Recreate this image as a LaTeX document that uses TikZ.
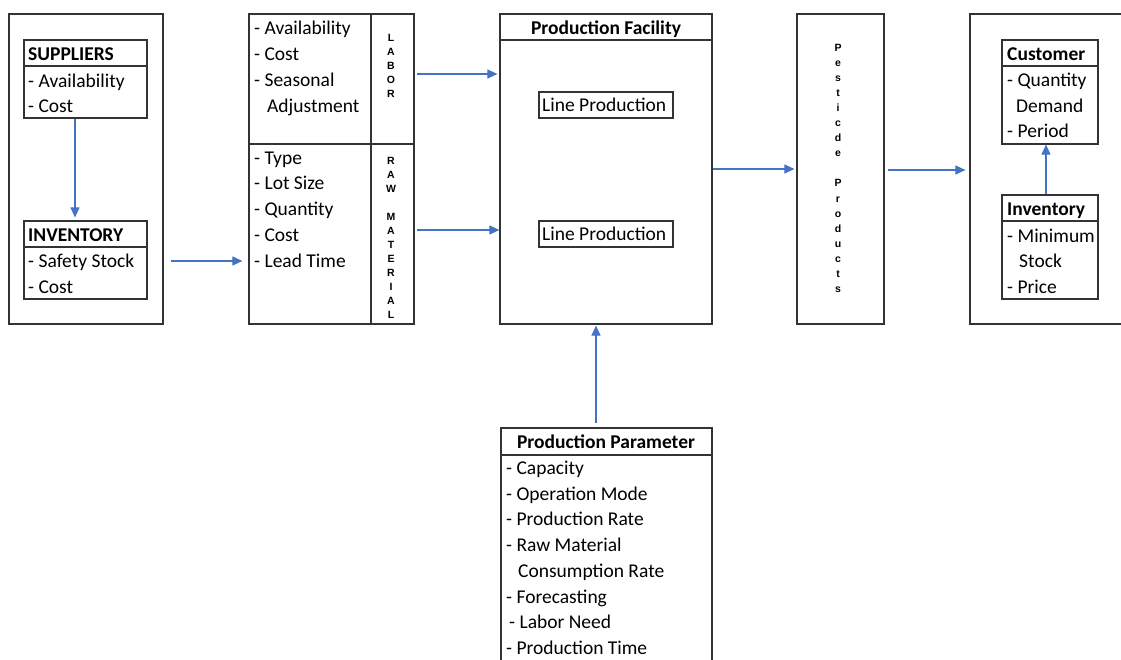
\documentclass[tikz,border=0pt]{standalone}
\usepackage{fontspec}
\setmainfont{Carlito}
\newfontfamily\letterfont{Liberation Sans}
\usetikzlibrary{arrows.meta,fit,calc}
\definecolor{linec}{HTML}{333333}
\definecolor{flow}{HTML}{4472C4}
\tikzset{
  box/.style={draw=linec, line width=1.2pt, inner sep=0pt},
  divider/.style={draw=linec, line width=1.2pt},
  txt/.style={inner sep=0pt, anchor=base west, font=\fontsize{19.5}{24}\selectfont},
  ttl/.style={txt, font=\fontsize{19.5}{24}\selectfont\bfseries},
  ctr/.style={ttl, anchor=base},
  vlet/.style={inner sep=0pt, anchor=base, font=\letterfont\fontsize{10.5}{11}\selectfont\bfseries},
  flowarrow/.style={draw=flow, line width=1.1pt, -{Triangle[length=10pt,width=9pt]}}
}
\begin{document}
\begin{tikzpicture}[x=1pt,y=-1pt]
\useasboundingbox (0,0) rectangle (1121,659);

% lanes for the connectors
\coordinate (lane-sup) at (75,0);
\coordinate (lane-in) at (0,261);
\coordinate (lane-lab) at (0,74);
\coordinate (lane-raw) at (0,230);
\coordinate (lane-out) at (0,169);
\coordinate (lane-pest) at (0,170);
\coordinate (lane-cinv) at (1046,0);
\coordinate (lane-par) at (596,0);
\coordinate (vsplit) at (371,0);

% ---------- suppliers and inventory ----------
\node[box, fit={(9,14) (163,324)}] (left) {};
\node[box, fit={(24,40) (147,66)}] (suph) {};
\node[box, fit={(24,66) (147,118)}] (supb) {};
\node[ttl] (sup-t) at (28,60) {SUPPLIERS};
\node[txt] (sup-1) at (28,87) {- Availability};
\node[txt] (sup-2) at (28,112) {- Cost};

\node[box, fit={(24,221) (147,247)}] (invh) {};
\node[box, fit={(24,247) (147,299)}] (invb) {};
\node[ttl] (inv-t) at (28,241) {INVENTORY};
\node[txt] (inv-1) at (28,267) {- Safety Stock};
\node[txt] (inv-2) at (28,293) {- Cost};

% ---------- labor and raw material ----------
\node[box, fit={(249,14) (414,144)}] (labor) {};
\node[box, fit={(249,144) (414,324)}] (raw) {};
\draw[divider] (labor.north -| vsplit) -- (raw.south -| vsplit);
\node[txt] (lab-1) at (254,34) {- Availability};
\node[txt] (lab-2) at (254,60) {- Cost};
\node[txt] (lab-3) at (254,86) {- Seasonal};
\node[txt] (lab-4) at (267,112) {Adjustment};
\foreach \c [count=\i from 0] in {L,A,B,O,R}
  \node[vlet] (labl-\i) at (391,{41+14*\i}) {\c};

\node[txt] (raw-1) at (254,164) {- Type};
\node[txt] (raw-2) at (254,189) {- Lot Size};
\node[txt] (raw-3) at (254,215) {- Quantity};
\node[txt] (raw-4) at (254,241) {- Cost};
\node[txt] (raw-5) at (254,267) {- Lead Time};
\foreach \c/\i in {R/0,A/1,W/2,M/4,A/5,T/6,E/7,R/8,I/9,A/10,L/11}
  \node[vlet] (rawl-\i) at (391,{164+14*\i}) {\c};

% ---------- production facility ----------
\node[box, fit={(500,14) (712,324)}] (fac) {};
\node[box, fit={(500,14) (712,40)}] (fach) {};
\node[ctr] (fac-t) at (606,34) {Production Facility};
\node[box, fit={(539,92) (673,118)}] (line1) {};
\node[txt] (line1-t) at (542,111) {Line Production};
\node[box, fit={(539,221) (673,247)}] (line2) {};
\node[txt] (line2-t) at (542,240) {Line Production};

% ---------- pesticide products ----------
\node[box, fit={(797,14) (884,324)}] (pest) {};
\foreach \c/\i in {P/0,e/1,s/2,t/3,i/4,c/5,d/6,e/7,P/9,r/10,o/11,d/12,u/13,c/14,t/15,s/16}
  \node[vlet] (pestl-\i) at (838,{51+15.1*\i}) {\c};

% ---------- customer side ----------
\node[box, fit={(970,14) (1130,324)}] (cust) {};
\node[box, fit={(1002,40) (1098,66)}] (custh) {};
\node[box, fit={(1002,66) (1098,144)}] (custb) {};
\node[ttl] (cust-t) at (1007,60) {Customer};
\node[txt] (cust-1) at (1007,86) {- Quantity};
\node[txt] (cust-2) at (1016,112) {Demand};
\node[txt] (cust-3) at (1007,137) {- Period};

\node[box, fit={(1002,195) (1098,221)}] (cinvh) {};
\node[box, fit={(1002,221) (1098,299)}] (cinvb) {};
\node[ttl] (cinv-t) at (1007,215) {Inventory};
\node[txt] (cinv-1) at (1007,242) {- Minimum};
\node[txt] (cinv-2) at (1019,267) {Stock};
\node[txt] (cinv-3) at (1007,293) {- Price};

% ---------- production parameter ----------
\node[box, fit={(501,428) (712,455)}] (parh) {};
\node[box, fit={(501,455) (712,690)}] (parb) {};
\node[ctr] (par-t) at (606,448) {Production Parameter};
\node[txt] (par-1) at (506,474) {- Capacity};
\node[txt] (par-2) at (506,500) {- Operation Mode};
\node[txt] (par-3) at (506,525) {- Production Rate};
\node[txt] (par-4) at (506,551) {- Raw Material};
\node[txt] (par-5) at (518,577) {Consumption Rate};
\node[txt] (par-6) at (506,603) {- Forecasting};
\node[txt] (par-7) at (509,628) {- Labor Need};
\node[txt] (par-8) at (506,654) {- Production Time};

% ---------- connectors ----------
\draw[flowarrow, shorten >=3pt] (supb.south -| lane-sup) -- (invh.north -| lane-sup);
\draw[flowarrow, shorten <=7pt, shorten >=6pt] (left.east |- lane-in) -- (raw.west |- lane-in);
\draw[flowarrow, shorten <=2pt, shorten >=2pt] (labor.east |- lane-lab) -- (fac.west |- lane-lab);
\draw[flowarrow, shorten <=2pt] (raw.east |- lane-raw) -- (fac.west |- lane-raw);
\draw[flowarrow, shorten >=2pt] (fac.east |- lane-out) -- (pest.west |- lane-out);
\draw[flowarrow, shorten <=3pt, shorten >=4pt] (pest.east |- lane-pest) -- (cust.west |- lane-pest);
\draw[flowarrow] (cinvh.north -| lane-cinv) -- (custb.south -| lane-cinv);
\draw[flowarrow, shorten <=4pt, shorten >=1pt] (parh.north -| lane-par) -- (fac.south -| lane-par);
\end{tikzpicture}
\end{document}
